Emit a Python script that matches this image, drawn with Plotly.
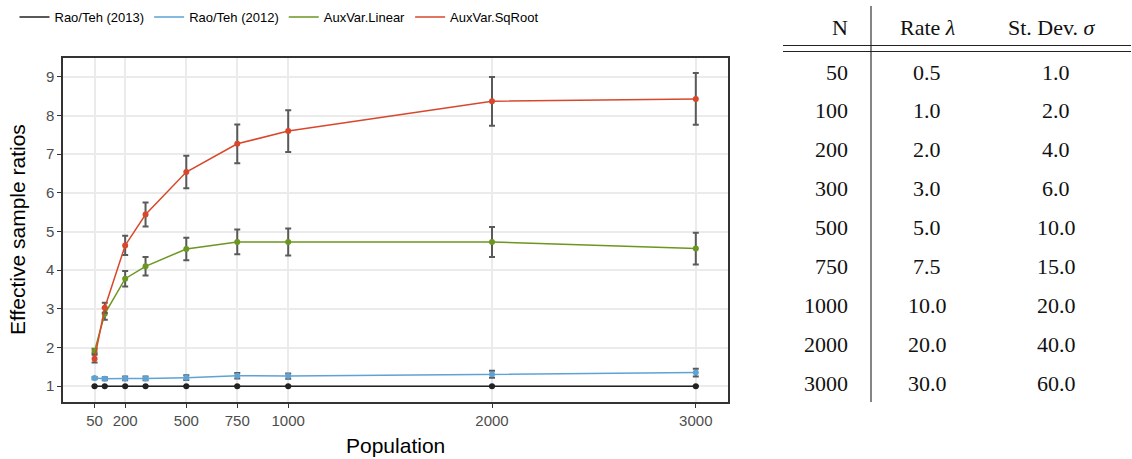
import plotly.graph_objects as go

W, H = 1132, 459

population = [50, 100, 200, 300, 500, 750, 1000, 2000, 3000]
x_tickvals = [50, 200, 500, 750, 1000, 2000, 3000]
y_tickvals = [1, 2, 3, 4, 5, 6, 7, 8, 9]

rao2013 = [1.0, 1.0, 1.0, 1.0, 1.0, 1.0, 1.0, 1.0, 1.0]
rao2013_err = [0.005, 0.005, 0.005, 0.005, 0.005, 0.005, 0.005, 0.005, 0.005]
rao2012 = [1.21, 1.19, 1.20, 1.20, 1.22, 1.27, 1.26, 1.31, 1.35]
rao2012_err = [0.03, 0.04, 0.05, 0.05, 0.06, 0.07, 0.07, 0.09, 0.10]
linear = [1.91, 2.87, 3.78, 4.10, 4.55, 4.73, 4.73, 4.73, 4.56]
linear_err = [0.06, 0.15, 0.20, 0.24, 0.29, 0.32, 0.35, 0.39, 0.41]
sqroot = [1.71, 3.03, 4.64, 5.44, 6.54, 7.27, 7.60, 8.37, 8.43]
sqroot_err = [0.10, 0.13, 0.25, 0.31, 0.42, 0.50, 0.54, 0.63, 0.67]

series = [
    ("Rao/Teh (2013)", rao2013, rao2013_err, "#222222"),
    ("Rao/Teh (2012)", rao2012, rao2012_err, "#5DA3D6"),
    ("AuxVar.Linear", linear, linear_err, "#6B961F"),
    ("AuxVar.SqRoot", sqroot, sqroot_err, "#D9472B"),
]

table_N = ["50", "100", "200", "300", "500", "750", "1000", "2000", "3000"]
table_rate = ["0.5", "1.0", "2.0", "3.0", "5.0", "7.5", "10.0", "20.0", "30.0"]
table_sd = ["1.0", "2.0", "4.0", "6.0", "10.0", "15.0", "20.0", "40.0", "60.0"]
table_header = ["N", "Rate <i>λ</i>", "St. Dev. <i>σ</i>"]

fig = go.Figure()
for name, vals, errs, col in series:
    fig.add_trace(go.Scatter(
        x=population, y=vals, name=name, mode="lines+markers",
        line=dict(color=col, width=1.5),
        marker=dict(color=col, size=6),
        error_y=dict(type="data", array=errs, color="#5a5a5a", thickness=2, width=3),
        showlegend=False, legendgroup=name,
    ))
# legend entries (line only, as in the reference)
for name, vals, errs, col in series:
    fig.add_trace(go.Scatter(
        x=[None], y=[None], name=name, mode="lines",
        line=dict(color=col, width=1.5), showlegend=True, legendgroup=name,
    ))

def px(x):
    return x / W

def py(y):
    return 1 - y / H

# plot area in pixels
L, R, T, B = 63, 728, 58, 402

fig.update_layout(
    width=W, height=H,
    margin=dict(l=0, r=0, t=0, b=0),
    paper_bgcolor="white", plot_bgcolor="white",
    font=dict(family="Liberation Sans, Arial, sans-serif", color="#000"),
    showlegend=True,
    legend=dict(orientation="h", x=px(279), xanchor="center", y=py(17), yanchor="middle",
                font=dict(size=13, color="#000"), itemwidth=30, bgcolor="rgba(0,0,0,0)",
                traceorder="normal", tracegroupgap=0),
    xaxis=dict(
        domain=[px(L), px(R)], range=[-105, 3158],
        tickvals=x_tickvals, ticktext=[str(v) for v in x_tickvals],
        showgrid=True, gridcolor="#EBEBEB", gridwidth=1.5,
        zeroline=False, showline=True, linecolor="#333333", linewidth=1.5, mirror=True,
        ticks="outside", ticklen=4, tickcolor="#333333", tickwidth=1.2,
        tickfont=dict(size=15, color="#4D4D4D"), automargin=False,
    ),
    yaxis=dict(
        domain=[py(B), py(T)], range=[0.59, 9.49],
        tickvals=y_tickvals, ticktext=[str(v) for v in y_tickvals],
        showgrid=True, gridcolor="#EBEBEB", gridwidth=1.5,
        zeroline=False, showline=True, linecolor="#333333", linewidth=1.5, mirror=True,
        ticks="outside", ticklen=4, tickcolor="#333333", tickwidth=1.2,
        tickfont=dict(size=15, color="#4D4D4D"), automargin=False,
    ),
)

ann = []
# axis titles
ann.append(dict(text="Population", x=px((L + R) / 2), y=py(445), xref="paper", yref="paper",
                showarrow=False, font=dict(size=21, color="#000"), xanchor="center", yanchor="middle"))
ann.append(dict(text="Effective sample ratios", x=px(18), y=py((T + B) / 2), xref="paper", yref="paper",
                showarrow=False, textangle=-90, font=dict(size=21, color="#000"),
                xanchor="center", yanchor="middle"))

serif = "Liberation Serif, Times New Roman, serif"
tfont = dict(family=serif, size=22, color="#111")
# header
hdr_y = 27
ann.append(dict(text=table_header[0], x=px(850), y=py(hdr_y), xref="paper", yref="paper",
                showarrow=False, font=tfont, xanchor="right", yanchor="middle"))
ann.append(dict(text=table_header[1], x=px(927), y=py(hdr_y), xref="paper", yref="paper",
                showarrow=False, font=tfont, xanchor="center", yanchor="middle"))
ann.append(dict(text=table_header[2], x=px(1052), y=py(hdr_y), xref="paper", yref="paper",
                showarrow=False, font=tfont, xanchor="center", yanchor="middle"))
row0, step = 72, 38.9
for i, (n, r, s) in enumerate(zip(table_N, table_rate, table_sd)):
    yy = row0 + i * step
    ann.append(dict(text=n, x=px(850), y=py(yy), xref="paper", yref="paper",
                    showarrow=False, font=tfont, xanchor="right", yanchor="middle"))
    ann.append(dict(text=r, x=px(927), y=py(yy), xref="paper", yref="paper",
                    showarrow=False, font=tfont, xanchor="center", yanchor="middle"))
    ann.append(dict(text=s, x=px(1056), y=py(yy), xref="paper", yref="paper",
                    showarrow=False, font=tfont, xanchor="center", yanchor="middle"))
fig.update_layout(annotations=ann)

shapes = [
    dict(type="line", xref="paper", yref="paper", x0=px(871), x1=px(871), y0=py(6), y1=py(402),
         line=dict(color="#333", width=1.2)),
    dict(type="line", xref="paper", yref="paper", x0=px(783), x1=px(1131), y0=py(45.5), y1=py(45.5),
         line=dict(color="#222", width=1.2)),
    dict(type="line", xref="paper", yref="paper", x0=px(783), x1=px(1131), y0=py(51.5), y1=py(51.5),
         line=dict(color="#222", width=1.2)),
]
fig.update_layout(shapes=shapes)

fig.write_html("out.html", config={"displayModeBar": False},
               post_script="document.body.style.margin='0px';document.body.style.padding='0px';")
